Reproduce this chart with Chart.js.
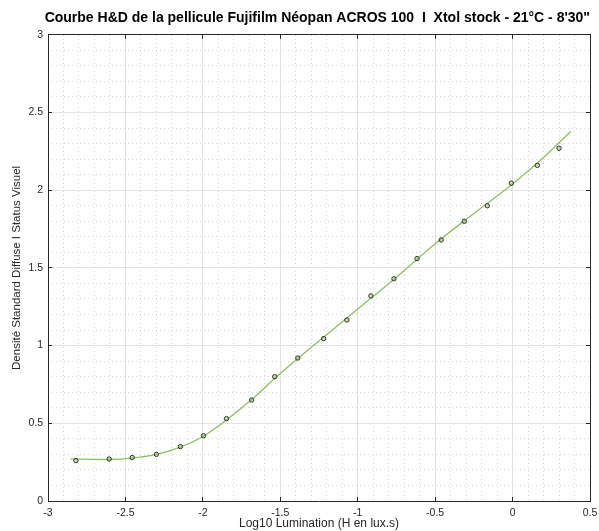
<!DOCTYPE html>
<html>
<head>
<meta charset="utf-8">
<script src="https://cdn.jsdelivr.net/npm/chart.js@4"></script>
<style>
  html, body { margin: 0; padding: 0; background: #fff; }
  #wrap { width: 599px; height: 531px; }
</style>
</head>
<body>
<div id="wrap"><canvas id="chart-hd"></canvas></div>
<script>
const logH = [-2.82, -2.605, -2.456, -2.30, -2.145, -1.996, -1.847, -1.685, -1.536, -1.387, -1.22,
              -1.07, -0.915, -0.766, -0.617, -0.461, -0.312, -0.163, -0.008, 0.16, 0.30];
const densite = [0.26, 0.27, 0.28, 0.30, 0.35, 0.42, 0.53, 0.65, 0.80, 0.92, 1.045,
                 1.165, 1.32, 1.43, 1.56, 1.68, 1.80, 1.90, 2.045, 2.16, 2.27];

const courbeX = [-2.855, -2.6, -2.45, -2.3, -2.15, -2.0, -1.85, -1.7, -1.5, -1.25, -1.0, -0.75, -0.5, -0.25, 0, 0.2, 0.375];
const courbeY = [0.271, 0.267, 0.277, 0.30, 0.345, 0.415, 0.52, 0.64, 0.82, 1.03, 1.235, 1.44, 1.655, 1.85, 2.04, 2.21, 2.378];

const titre = "Courbe H&D de la pellicule Fujifilm Néopan ACROS 100  I  Xtol stock - 21°C - 8'30\"";
const titreX = "Log10 Lumination (H en lux.s)";
const titreY = "Densité Standard Diffuse I Status Visuel";

const FONT = "'Liberation Sans', Arial, Helvetica, sans-serif";
const texte = '#262626';
const cadre = '#262626';

const estMajeur = v => Math.abs(v * 2 - Math.round(v * 2)) < 1e-6;
const mineur = ctx => (ctx.tick && estMajeur(ctx.tick.value)) ? 'rgba(0,0,0,0)' : '#d6d6d6';
const repere = ctx => (ctx.tick && estMajeur(ctx.tick.value)) ? cadre : 'rgba(0,0,0,0)';
const fmt = v => String(Number(v.toFixed(2)));

const ctx = document.getElementById("chart-hd").getContext("2d");

let chartHD = new Chart(ctx, {
    type: 'scatter',
    data: {
        datasets: [
            {
                label: 'Courbe',
                data: courbeX.map((x, i) => ({ x: x, y: courbeY[i] })),
                showLine: true,
                borderColor: '#8cc05f',
                borderWidth: 1.3,
                pointRadius: 0,
                cubicInterpolationMode: 'monotone',
                order: 2
            },
            {
                label: 'Mesures',
                data: logH.map((x, i) => ({ x: x, y: densite[i] })),
                pointRadius: 2.2,
                pointBorderWidth: 1,
                pointBorderColor: '#333',
                pointBackgroundColor: 'rgba(140,192,95,0.5)',
                order: 1
            }
        ]
    },
    options: {
        responsive: true,
        maintainAspectRatio: false,
        animation: false,
        layout: { padding: { left: 0, right: 9, top: 0, bottom: 0 } },
        plugins: {
            legend: { display: false },
            tooltip: { enabled: false },
            title: {
                display: true,
                text: titre,
                align: 'end',
                color: '#000',
                font: { family: FONT, size: 14, weight: 'bold' },
                padding: { top: 10, bottom: 8 }
            }
        },
        scales: {
            x: {
                type: 'linear',
                position: 'bottom',
                min: -3, max: 0.5,
                afterFit: s => { s.height = 30; s.paddingLeft = 0; s.paddingRight = 0; },
                ticks: { stepSize: 0.5, callback: fmt, color: texte, font: { family: FONT, size: 10.5 }, padding: 10, autoSkip: false, maxRotation: 0 },
                grid: { color: '#e2e2e2', lineWidth: 1, drawTicks: true, tickLength: -4, tickColor: cadre },
                border: { color: cadre, width: 1 },
                title: { display: true, text: titreX, color: texte, font: { family: FONT, size: 12 }, padding: { top: 0, bottom: 0 } }
            },
            x2: {
                type: 'linear',
                position: 'top',
                min: -3, max: 0.5,
                afterFit: s => { s.height = 0; s.paddingLeft = 0; s.paddingRight = 0; },
                ticks: { display: false, stepSize: 0.1 },
                grid: { color: mineur, lineWidth: 1, drawTicks: true, tickLength: -4, tickColor: repere },
                border: { color: cadre, width: 1, dash: [1, 3] }
            },
            y: {
                type: 'linear',
                position: 'left',
                min: 0, max: 3,
                afterFit: s => { s.width = 48; s.paddingTop = 0; s.paddingBottom = 0; },
                ticks: { stepSize: 0.5, callback: fmt, color: texte, font: { family: FONT, size: 10.5 }, padding: 9 },
                grid: { color: '#e2e2e2', lineWidth: 1, drawTicks: true, tickLength: -4, tickColor: cadre },
                border: { color: cadre, width: 1 },
                title: { display: true, text: titreY, color: texte, font: { family: FONT, size: 11.5 }, padding: { top: 10, bottom: 0 } }
            },
            y2: {
                type: 'linear',
                position: 'right',
                min: 0, max: 3,
                afterFit: s => { s.width = 0; s.paddingTop = 0; s.paddingBottom = 0; },
                ticks: { display: false, stepSize: 0.1 },
                grid: { color: mineur, lineWidth: 1, drawTicks: true, tickLength: -4, tickColor: repere },
                border: { color: cadre, width: 1, dash: [1, 3] }
            }
        }
    }
});
</script>
</body>
</html>
